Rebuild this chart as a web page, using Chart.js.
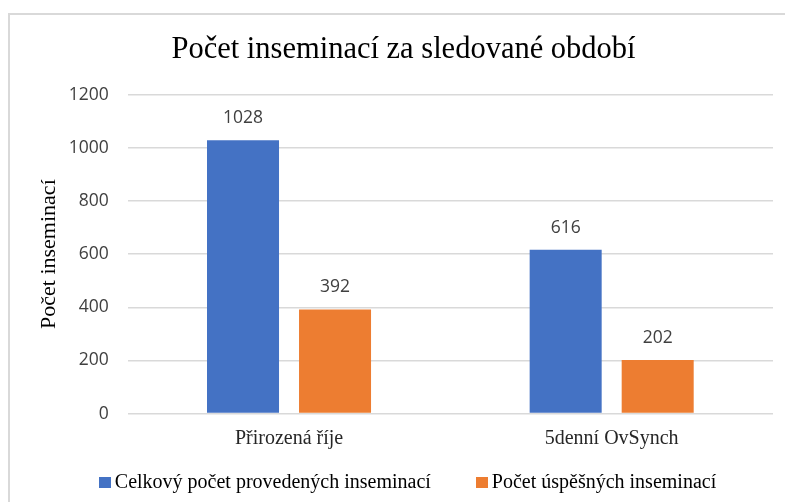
<!DOCTYPE html>
<html>
<head>
<meta charset="utf-8">
<script src="https://cdn.jsdelivr.net/npm/chart.js@4.4.1/dist/chart.umd.min.js"></script>
<style>
  html, body { margin: 0; padding: 0; background: #ffffff; overflow: hidden; width: 785px; height: 502px; }
  #box { position: absolute; left: 8px; top: 13px; width: 787px; height: 487px; border: 2px solid #d9d9d9; background: #fff; }
  #box canvas { display: block; }
</style>
</head>
<body>
<div id="box"><canvas id="c" width="787" height="487"></canvas></div>
<script>
const categories = ["Přirozená říje", "5denní OvSynch"];
const seriesNames = ["Celkový počet provedených inseminací", "Počet úspěšných inseminací"];
const totalInseminations = [1028, 616];
const successfulInseminations = [392, 202];
const yTicks = [0, 200, 400, 600, 800, 1000, 1200];
const chartTitle = "Počet inseminací za sledované období";
const yTitle = "Počet inseminací";

const sansFont = "'Open Sans', 'Noto Sans', sans-serif";
const serifFont = "'Liberation Serif', 'DejaVu Serif', serif";

const dataLabels = {
  id: 'dataLabels',
  afterDatasetsDraw(chart) {
    const ctx = chart.ctx;
    ctx.save();
    ctx.font = "17.5px " + sansFont;
    ctx.fillStyle = "#404040";
    ctx.textAlign = "center";
    ctx.textBaseline = "middle";
    chart.data.datasets.forEach((ds, i) => {
      const meta = chart.getDatasetMeta(i);
      meta.data.forEach((bar, j) => {
        ctx.fillText(String(ds.data[j]), bar.x, bar.y - 22);
      });
    });
    ctx.restore();
  }
};

// Legend drawn from the datasets (Excel-like spacing: 4px box-text gap, wide item gap)
const bottomLegend = {
  id: 'bottomLegend',
  afterDraw(chart) {
    const ctx = chart.ctx;
    const boxW = 12, boxH = 11, textGap = 4, itemGap = 45, yCenter = 467;
    ctx.save();
    ctx.font = "20px " + serifFont;
    ctx.textBaseline = "middle";
    ctx.textAlign = "left";
    const items = chart.data.datasets.map(ds => ({
      text: ds.label, color: ds.backgroundColor, w: ctx.measureText(ds.label).width
    }));
    let total = 0;
    items.forEach((it, i) => { total += boxW + textGap + it.w + (i < items.length - 1 ? itemGap : 0); });
    let x = chart.width / 2 - total / 2 + 4;
    items.forEach(it => {
      ctx.fillStyle = it.color;
      ctx.fillRect(Math.round(x), Math.round(yCenter - boxH / 2), boxW, boxH);
      ctx.fillStyle = '#000000';
      ctx.fillText(it.text, x + boxW + textGap, yCenter + 1);
      x += boxW + textGap + it.w + itemGap;
    });
    ctx.restore();
  }
};

new Chart(document.getElementById('c'), {
  type: 'bar',
  data: {
    labels: categories,
    datasets: [
      { label: seriesNames[0], data: totalInseminations, backgroundColor: '#4472c4', borderWidth: 0 },
      { label: seriesNames[1], data: successfulInseminations, backgroundColor: '#ed7d31', borderWidth: 0 }
    ]
  },
  options: {
    responsive: false,
    animation: false,
    devicePixelRatio: 1,
    categoryPercentage: 0.5704,
    barPercentage: 0.7826,
    layout: { padding: { left: 24, right: 24, top: 0, bottom: 47 } },
    plugins: {
      title: {
        display: true,
        text: chartTitle,
        color: '#000000',
        font: { family: serifFont, size: 30.5, weight: 'normal' },
        padding: { top: 17, bottom: 26 }
      },
      legend: { display: false },
      tooltip: { enabled: false }
    },
    scales: {
      x: {
        grid: { display: false },
        border: { display: false },
        ticks: {
          color: '#262626',
          font: { family: serifFont, size: 20 },
          padding: 4.7
        }
      },
      y: {
        min: 0,
        max: 1200,
        afterFit(scale) { scale.width = 93.7; },
        afterBuildTicks(scale) { scale.ticks = yTicks.map(v => ({ value: v })); },
        grid: { color: '#d9d9d9', lineWidth: 1.5, drawTicks: false },
        border: { display: false },
        ticks: {
          color: '#404040',
          font: { family: sansFont, size: 17.5 },
          padding: 19,
          callback: (v) => String(v)
        },
        title: {
          display: true,
          text: yTitle,
          color: '#000000',
          font: { family: serifFont, size: 22 },
          padding: { top: 1.8, bottom: 0 }
        }
      }
    }
  },
  plugins: [dataLabels, bottomLegend]
});
</script>
</body>
</html>
